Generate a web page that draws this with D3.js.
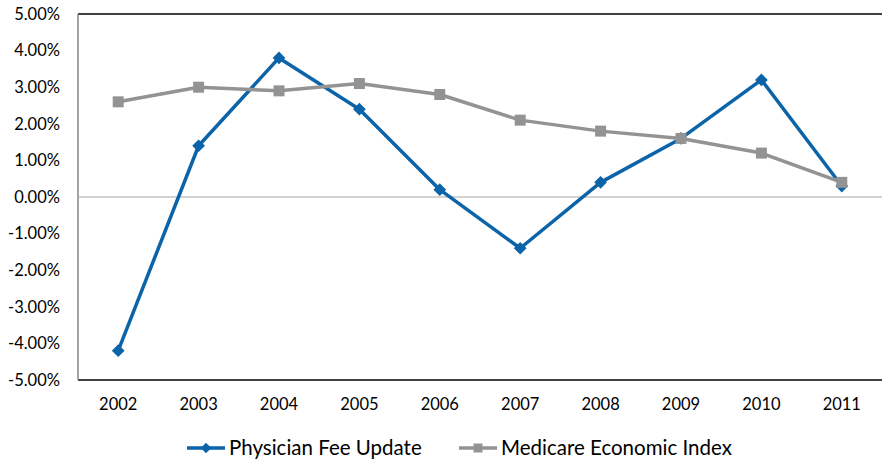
<!DOCTYPE html>
<html>
<head>
<meta charset="utf-8">
<script src="https://cdn.jsdelivr.net/npm/d3@7"></script>
<style>
  html, body { margin: 0; padding: 0; background: #fff; }
  svg { display: block; font-family: Lato, "Open Sans", sans-serif; }
</style>
</head>
<body>
<svg id="chart" width="884" height="461"></svg>
<script>
// Annual rates, percent
const years = ["2002","2003","2004","2005","2006","2007","2008","2009","2010","2011"];
const physicianFee = [-4.2, 1.4, 3.8, 2.4, 0.2, -1.4, 0.4, 1.6, 3.2, 0.3];
const medicareEI   = [2.6, 3.0, 2.9, 3.1, 2.8, 2.1, 1.8, 1.6, 1.2, 0.4];
const yTicks = [5, 4, 3, 2, 1, 0, -1, -2, -3, -4, -5];
const seriesNames = ["Physician Fee Update", "Medicare Economic Index"];

const svg = d3.select("#chart");
const plotLeft = 78, plotRight = 882, plotTop = 14, plotBottom = 380;
const font = "Lato, 'Open Sans', sans-serif";

const x = d3.scaleBand().domain(years).range([plotLeft, plotRight]);
const y = d3.scaleLinear().domain([-5, 5]).range([plotBottom, plotTop]);
const cx = d => x(d) + x.bandwidth() / 2;

// Frame
svg.append("line").attr("x1", plotLeft).attr("x2", plotRight).attr("y1", plotTop).attr("y2", plotTop)
  .attr("stroke", "#000").attr("stroke-width", 1.5);
svg.append("line").attr("x1", plotLeft).attr("x2", plotRight).attr("y1", plotBottom).attr("y2", plotBottom)
  .attr("stroke", "#000").attr("stroke-width", 1.5);
svg.append("line").attr("x1", plotLeft).attr("x2", plotLeft).attr("y1", plotTop).attr("y2", plotBottom)
  .attr("stroke", "#868686").attr("stroke-width", 1.5);
// Zero line
svg.append("line").attr("x1", plotLeft).attr("x2", plotRight).attr("y1", y(0)).attr("y2", y(0))
  .attr("stroke", "#a6a6a6").attr("stroke-width", 1);

// Y axis labels
const yAxis = d3.axisLeft(y).tickValues(yTicks).tickSize(0).tickPadding(18)
  .tickFormat(d => d.toFixed(2) + "%");
svg.append("g").attr("transform", `translate(${plotLeft},0)`).call(yAxis)
  .call(g => g.select(".domain").remove())
  .selectAll("text").attr("font-size", 16.5).attr("fill", "#000").attr("font-family", font);

// X axis labels
const xAxis = d3.axisBottom(x).tickSize(0).tickPadding(18);
svg.append("g").attr("transform", `translate(0,${plotBottom})`).call(xAxis)
  .call(g => g.select(".domain").remove())
  .selectAll("text").attr("font-size", 16.5).attr("fill", "#000").attr("font-family", font);

const line = d3.line().x(d => cx(d.year)).y(d => y(d.v));
const blue = "#0b63a8", gray = "#939393";

// Marker shapes: diamond is a square turned 45 degrees
function marker(sel, shape, side) {
  if (shape === "diamond") {
    const r = side / 2 * Math.SQRT2;
    sel.attr("d", `M0,${-r}L${r},0L0,${r}L${-r},0Z`);
  } else {
    const s = side / 2;
    sel.attr("d", `M${-s},${-s}H${s}V${s}H${-s}Z`);
  }
}

function drawSeries(vals, color, shape, side) {
  const data = years.map((yr, i) => ({ year: yr, v: vals[i] }));
  svg.append("path").datum(data).attr("d", line)
    .attr("fill", "none").attr("stroke", color).attr("stroke-width", 3.5)
    .attr("stroke-linejoin", "round");
  svg.append("g").selectAll("path").data(data).join("path")
    .attr("transform", d => `translate(${cx(d.year)},${y(d.v)})`)
    .call(marker, shape, side)
    .attr("fill", color);
}

drawSeries(physicianFee, blue, "diamond", 9);
drawSeries(medicareEI, gray, "square", 11);

// Legend
const legend = svg.append("g").attr("transform", "translate(0,448)");
const items = [
  { name: seriesNames[0], color: blue, shape: "diamond", side: 7.5, x0: 187, x1: 225, tx: 229 },
  { name: seriesNames[1], color: gray, shape: "square", side: 9, x0: 459, x1: 497, tx: 501 }
];
items.forEach(it => {
  legend.append("line").attr("x1", it.x0).attr("x2", it.x1).attr("y1", 0).attr("y2", 0)
    .attr("stroke", it.color).attr("stroke-width", 3.5);
  legend.append("path").attr("transform", `translate(${(it.x0 + it.x1) / 2},0)`)
    .call(marker, it.shape, it.side).attr("fill", it.color);
  legend.append("text").attr("x", it.tx).attr("y", 7).text(it.name)
    .attr("font-size", 20.5).attr("fill", "#000").attr("font-family", font);
});
</script>
</body>
</html>
